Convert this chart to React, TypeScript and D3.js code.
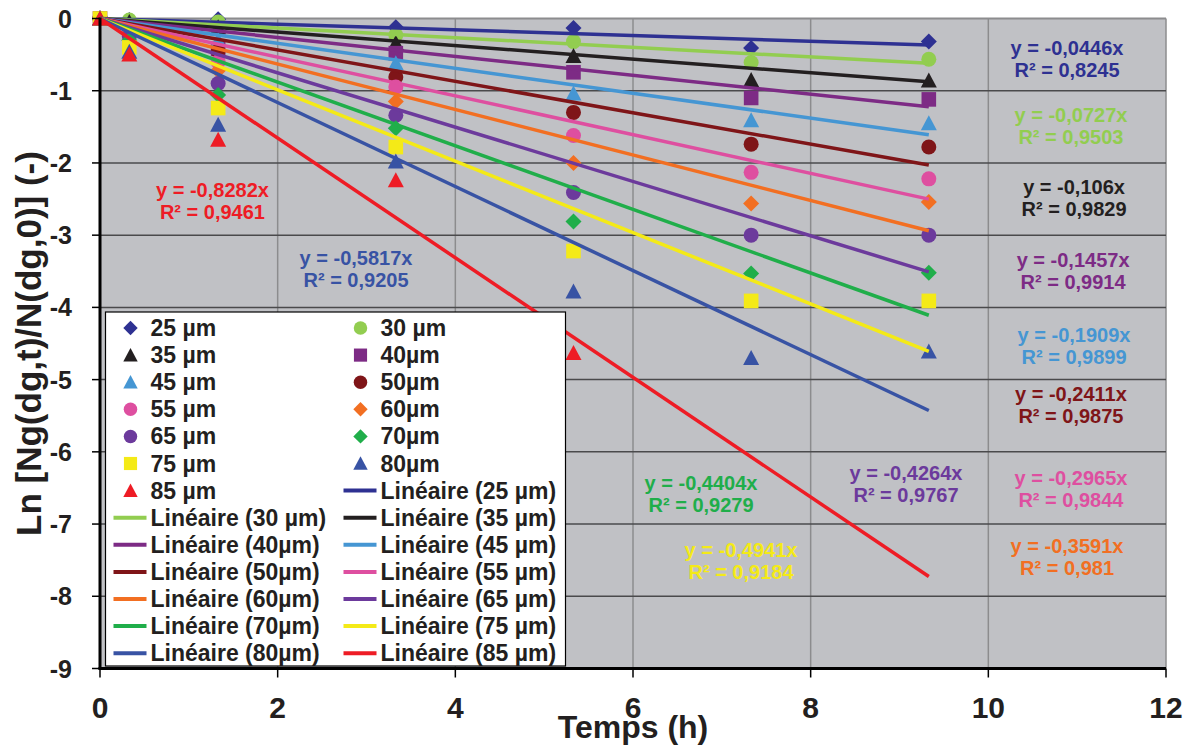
import React from 'react';
import * as d3 from 'd3';

// ---------- data ----------
const times = [0, 0.33, 1.33, 3.33, 5.33, 7.33, 9.33];
const seriesNames = ['25 µm', '30 µm', '35 µm', '40µm', '45 µm', '50µm', '55 µm', '60µm', '65 µm', '70µm', '75 µm', '80µm', '85 µm'];
const seriesColors = ['#2E3192', '#92CD50', '#231F20', '#7D2B85', '#4596D3', '#7F1518', '#DE4FA0', '#F26F22', '#6C3A9C', '#20AE4A', '#F4EA17', '#3853A4', '#EE1C25'];
const seriesShapes = ['diamond', 'circle', 'triangle', 'square', 'triangle', 'circle', 'circle', 'diamond', 'circle', 'diamond', 'square', 'triangle', 'triangle'];

const v25 = [0, -0.02, -0.01, -0.12, -0.13, -0.41, -0.32];
const v30 = [0, -0.02, -0.05, -0.23, -0.32, -0.61, -0.565];
const v35 = [0, -0.05, -0.12, -0.34, -0.52, -0.85, -0.86];
const v40 = [0, -0.1, -0.42, -0.48, -0.745, -1.1, -1.12];
const v45 = [0, -0.1, -0.3, -0.62, -1.04, -1.41, -1.45];
const v50 = [0, -0.12, -0.45, -0.81, -1.3, -1.74, -1.78];
const v55 = [0, -0.15, -0.6, -0.95, -1.62, -2.13, -2.22];
const v60 = [0, -0.2, -0.72, -1.15, -2.0, -2.56, -2.54];
const v65 = [0, -0.25, -0.9, -1.34, -2.41, -3.0, -3.0];
const v70 = [0, -0.3, -1.06, -1.52, -2.81, -3.53, -3.52];
const v75 = [0, -0.4, -1.24, -1.78, -3.22, -3.91, -3.91];
const v80 = [0, -0.46, -1.47, -1.98, -3.78, -4.7, -4.61];
const v85 = [0, -0.5, -1.68, -2.24, -4.63];
const seriesValues = [v25, v30, v35, v40, v45, v50, v55, v60, v65, v70, v75, v80, v85];

// slopes of the drawn trend lines
const trendSlopes = [-0.0393, -0.0665, -0.0938, -0.131, -0.1725, -0.2175, -0.268, -0.315, -0.376, -0.4404, -0.4941, -0.5817, -0.8282];
// equation labels
const eqSlopes = ['-0,0446', '-0,0727', '-0,106', '-0,1457', '-0,1909', '-0,2411', '-0,2965', '-0,3591', '-0,4264', '-0,4404', '-0,4941', '-0,5817', '-0,8282'];
const eqR2 = ['0,8245', '0,9503', '0,9829', '0,9914', '0,9899', '0,9875', '0,9844', '0,981', '0,9767', '0,9279', '0,9184', '0,9205', '0,9461'];

const xTicks = [0, 2, 4, 6, 8, 10, 12];
const yTicks = [0, -1, -2, -3, -4, -5, -6, -7, -8, -9];

// ---------- layout ----------
const W = 1193;
const H = 747;
const PL = 100, PR = 1166, PT = 18.5, PB = 668.5;
const FONT = '"Liberation Sans", Arial, Helvetica, sans-serif';
// equation label anchors, in data coordinates (center x, first-line baseline y)
const eqAnchorX = [10.886, 10.93, 10.965, 10.954, 10.965, 10.93, 10.93, 10.886, 9.073, 6.766, 7.216, 2.882, 1.266];
const eqAnchorY = [-0.51, -1.433, -2.427, -3.442, -4.48, -5.298, -6.465, -7.403, -6.396, -6.526, -7.458, -3.414, -2.472];

function Marker({ shape, cx, cy, color, s = 1 }: { shape: string; cx: number; cy: number; color: string; s?: number }) {
  if (shape === 'circle') return <circle cx={cx} cy={cy} r={7.5 * s} fill={color} />;
  if (shape === 'square') {
    const h = 7.3 * s;
    return <rect x={cx - h} y={cy - h} width={2 * h} height={2 * h} fill={color} />;
  }
  if (shape === 'diamond') {
    const h = 8 * s;
    return <polygon points={`${cx},${cy - h} ${cx + h},${cy} ${cx},${cy + h} ${cx - h},${cy}`} fill={color} />;
  }
  // triangle
  const w = 8 * s;
  const t = 8 * s;
  const b = 7 * s;
  return <polygon points={`${cx},${cy - t} ${cx + w},${cy + b} ${cx - w},${cy + b}`} fill={color} />;
}

export default function App() {
  const x = d3.scaleLinear().domain([0, 12]).range([PL, PR]);
  const y = d3.scaleLinear().domain([0, -9]).range([PT, PB]);
  const line = d3.line<[number, number]>().x((d) => x(d[0])).y((d) => y(d[1]));
  const tEnd = times[times.length - 1];

  // legend entries: markers first then trend lines
  const legendEntries = [
    ...seriesNames.map((n, i) => ({ kind: 'marker', label: n, i })),
    ...seriesNames.map((n, i) => ({ kind: 'line', label: `Linéaire (${n})`, i })),
  ];
  const LX = 105.5, LY = 312, LW = 460, LH = 354;
  const rowY0 = 328, rowStep = 27.1;
  const colX = [0, 230];

  return (
    <svg width={W} height={H} style={{ position: 'absolute', left: 0, top: 0, background: '#fff' }} fontFamily={FONT}>
      {/* plot background */}
      <rect x={PL} y={PT} width={PR - PL} height={PB - PT} fill="#C0C1C5" />
      {/* vertical grid */}
      {xTicks.filter((t) => t > 0).map((t) => (
        <line key={'vg' + t} x1={x(t)} x2={x(t)} y1={PT} y2={PB} stroke="#8C8C8E" strokeWidth={1.5} />
      ))}
      {/* horizontal grid */}
      {yTicks.filter((t) => t < 0 && t > -9).map((t) => (
        <line key={'hg' + t} x1={PL} x2={PR} y1={y(t)} y2={y(t)} stroke="#4A4A4C" strokeWidth={1.5} />
      ))}
      {/* top border */}
      <line x1={PL} x2={PR} y1={PT} y2={PT} stroke="#8C8C8E" strokeWidth={2} />
      {/* markers */}
      {seriesValues.map((vals, si) =>
        vals.map((v, k) => (
          <Marker key={`m${si}-${k}`} shape={seriesShapes[si]} cx={x(times[k])} cy={y(v)} color={seriesColors[si]} />
        ))
      )}
      {/* trend lines */}
      {trendSlopes.map((a, si) => (
        <path
          key={'tl' + si}
          d={line([[0, 0], [tEnd, a * tEnd]]) || ''}
          stroke={seriesColors[si]}
          strokeWidth={3.5}
          fill="none"
        />
      ))}
      {/* equation labels */}
      {eqSlopes.map((s, i) => (
        <text key={'eq' + i} x={x(eqAnchorX[i])} y={y(eqAnchorY[i])} fill={seriesColors[i]} fontSize={20} fontWeight="bold" textAnchor="middle">
          <tspan x={x(eqAnchorX[i])}>{`y = ${s}x`}</tspan>
          <tspan x={x(eqAnchorX[i])} dy={22}>{`R² = ${eqR2[i]}`}</tspan>
        </text>
      ))}
      {/* axes */}
      <line x1={PL} x2={PL} y1={PT - 1} y2={PB + 1} stroke="#000" strokeWidth={3} />
      <line x1={PL - 1.5} x2={PR} y1={PB} y2={PB} stroke="#000" strokeWidth={3} />
      {/* y ticks */}
      {yTicks.map((t) => (
        <g key={'yt' + t}>
          <line x1={PL - 8} x2={PL} y1={y(t)} y2={y(t)} stroke="#000" strokeWidth={1.5} />
          <text x={72} y={y(t) + 9} textAnchor="end" fontSize={25} fontWeight="bold" fill="#231F20">{d3.format('d')(t).replace('−', '-')}</text>
        </g>
      ))}
      {/* x ticks */}
      {xTicks.map((t) => (
        <g key={'xt' + t}>
          <line x1={x(t)} x2={x(t)} y1={PB} y2={PB + 9} stroke="#000" strokeWidth={1.5} />
          <text x={x(t)} y={718} textAnchor="middle" fontSize={30} fontWeight="bold" fill="#231F20">{String(t)}</text>
        </g>
      ))}
      {/* axis titles */}
      <text x={(PL + PR) / 2} y={738} textAnchor="middle" fontSize={32} fontWeight="bold" fill="#231F20">Temps (h)</text>
      <text
        transform={`translate(41,${(PT + PB) / 2}) rotate(-90)`}
        textAnchor="middle"
        fontSize={35}
        fontWeight="bold"
        fill="#231F20"
      >
        Ln [Ng(dg,t)/N(dg,0)] (-)
      </text>
      {/* legend */}
      <rect x={LX} y={LY} width={LW} height={LH} fill="#fff" stroke="#000" strokeWidth={1.2} />
      {legendEntries.map((e, k) => {
        const row = Math.floor(k / 2);
        const col = k % 2;
        const cy = rowY0 + row * rowStep;
        const bx = LX + colX[col];
        return (
          <g key={'lg' + k}>
            {e.kind === 'marker' ? (
              <Marker shape={seriesShapes[e.i]} cx={bx + 25} cy={cy} color={seriesColors[e.i]} s={0.9} />
            ) : (
              <line x1={bx + 8} x2={bx + 41} y1={cy} y2={cy} stroke={seriesColors[e.i]} strokeWidth={4} />
            )}
            <text x={bx + 45} y={cy + 8} fontSize={23} fontWeight="bold" fill="#231F20">{e.label}</text>
          </g>
        );
      })}
    </svg>
  );
}
